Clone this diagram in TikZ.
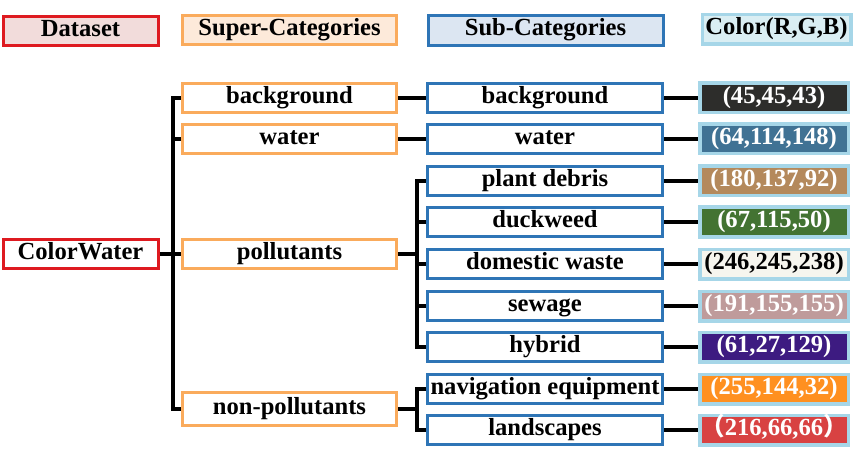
\documentclass[tikz,border=0pt]{standalone}
\usepackage{fontspec}
\setmainfont{Liberation Serif}
\newfontfamily\cjk{Noto Sans CJK SC}
\definecolor{dsred}{RGB}{222,26,32}
\definecolor{dsfill}{RGB}{242,220,219}
\definecolor{suporange}{RGB}{250,171,92}
\definecolor{supfill}{RGB}{253,234,218}
\definecolor{subblue}{RGB}{46,117,182}
\definecolor{subfill}{RGB}{220,230,242}
\definecolor{colblue}{RGB}{166,214,232}
\definecolor{colfill}{RGB}{218,238,243}
\definecolor{c1}{RGB}{45,45,43}
\definecolor{c2}{RGB}{64,114,148}
\definecolor{c3}{RGB}{180,137,92}
\definecolor{c4}{RGB}{67,115,50}
\definecolor{c5}{RGB}{246,245,238}
\definecolor{c6}{RGB}{191,155,155}
\definecolor{c7}{RGB}{61,27,129}
\definecolor{c8}{RGB}{255,144,32}
\definecolor{c9}{RGB}{216,66,66}
\tikzset{
  base/.style={rectangle, inner sep=0pt, minimum height=29.5pt, line width=3pt,
    text height=17pt, text depth=6pt,
    font=\fontsize{24.6}{28}\selectfont\bfseries, text=black},
  dsbox/.style={base, draw=dsred, fill=white, minimum width=155pt},
  supbox/.style={base, draw=suporange, fill=white, minimum width=214pt},
  subbox/.style={base, draw=subblue, fill=white, minimum width=235pt},
  colbox/.style={base, draw=colblue, line width=3.5pt, minimum width=148.5pt, text=white},
  conn/.style={draw=black, line width=3.2pt, line join=miter},
}
\begin{document}
\begin{tikzpicture}[x=1pt,y=-1pt]
\useasboundingbox (0,0) rectangle (858,462);
% headers
\node[dsbox, fill=dsfill] (hds) at (80.5,31) {Dataset};
\node[supbox, fill=supfill] (hsup) at (289.5,30) {Super-Categories};
\node[subbox, fill=subfill] (hsub) at (545.5,30.5) {Sub-Categories};
\node[colbox, fill=colfill, text=black] (hcol) at (776.5,29.5) {Color(R,G,B)};
% dataset
\node[dsbox] (cw) at (80.5,254) {ColorWater};
% super
\node[supbox] (sbg) at (289.5,98) {background};
\node[supbox] (swa) at (289.5,139) {water};
\node[supbox] (spo) at (289.5,254) {pollutants};
\node[supbox, minimum height=33pt] (snp) at (289.5,409) {non-pollutants};
% sub
\node[subbox] (bbg) at (545,98) {background};
\node[subbox] (bwa) at (545,139) {water};
\node[subbox] (bpd) at (545,181) {plant debris};
\node[subbox] (bdw) at (545,222) {duckweed};
\node[subbox] (bdo) at (545,264) {domestic waste};
\node[subbox] (bse) at (545,306) {sewage};
\node[subbox] (bhy) at (545,347) {hybrid};
\node[subbox] (bna) at (545,389) {navigation equipment};
\node[subbox] (bla) at (545,430) {landscapes};
% colors
\node[colbox, fill=c1] (kbg) at (774,98) {(45,45,43)};
\node[colbox, fill=c2] (kwa) at (774,139) {(64,114,148)};
\node[colbox, fill=c3] (kpd) at (774,181) {(180,137,92)};
\node[colbox, fill=c4] (kdw) at (774,222) {(67,115,50)};
\node[colbox, fill=c5, text=black] (kdo) at (774,264) {(246,245,238)};
\node[colbox, fill=c6] (kse) at (774,306) {(191,155,155)};
\node[colbox, fill=c7] (khy) at (774,347) {(61,27,129)};
\node[colbox, fill=c8] (kna) at (774,389) {(255,144,32)};
\node[colbox, fill=c9] (kla) at (774,430) {{\cjk （}216,66,66{\cjk ）}};
% connectors dataset -> super
\coordinate (t1) at (173,254);
\draw[conn] (cw.east) -- (spo.west);
\draw[conn] (sbg.west) -- (sbg.west -| t1) -- (snp.west -| t1) -- (snp.west);
\draw[conn] (swa.west) -- (swa.west -| t1);
% super -> sub
\coordinate (t2) at (417,254);
\draw[conn] (sbg.east) -- (bbg.west);
\draw[conn] (swa.east) -- (bwa.west);
\draw[conn] (spo.east) -- (t2);
\draw[conn] (bpd.west) -- (bpd.west -| t2) -- (bhy.west -| t2) -- (bhy.west);
\draw[conn] (bdw.west) -- (bdw.west -| t2);
\draw[conn] (bdo.west) -- (bdo.west -| t2);
\draw[conn] (bse.west) -- (bse.west -| t2);
\coordinate (t3) at (417,409);
\draw[conn] (snp.east) -- (t3);
\draw[conn] (bna.west) -- (bna.west -| t3) -- (bla.west -| t3) -- (bla.west);
% sub -> color
\foreach \a/\b in {bbg/kbg,bwa/kwa,bpd/kpd,bdw/kdw,bdo/kdo,bse/kse,bhy/khy,bna/kna,bla/kla}
  \draw[conn] (\a.east) -- (\b.west);
\end{tikzpicture}
\end{document}
